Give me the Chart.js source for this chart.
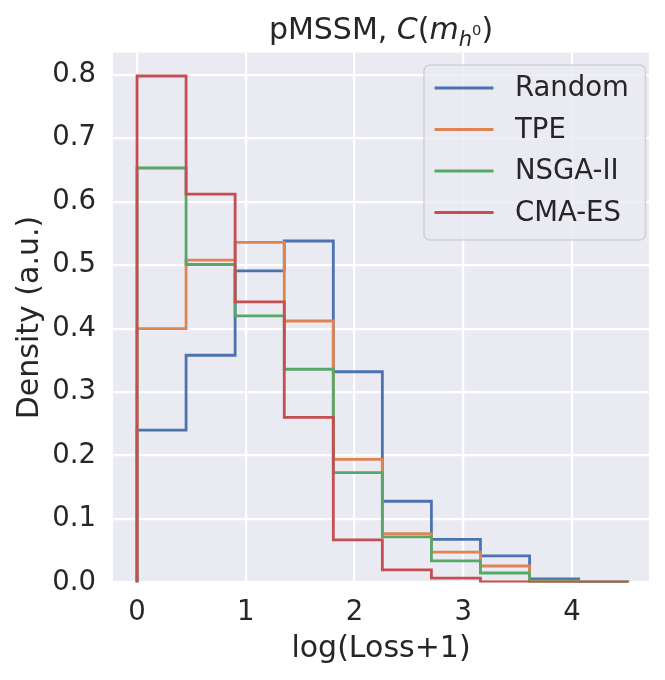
<!DOCTYPE html>
<html>
<head>
<meta charset="utf-8">
<script src="https://cdn.jsdelivr.net/npm/chart.js@4/dist/chart.umd.min.js"></script>
<style>
  html, body { margin: 0; padding: 0; background: #fff; }
  canvas { display: block; }
</style>
</head>
<body>
<canvas id="hist" width="665" height="680"></canvas>
<script>
// bin edges of the shared histogram
const binEdges = [0, 0.451, 0.902, 1.354, 1.805, 2.256, 2.707, 3.158, 3.61, 4.061, 4.512];

const seriesNames = ["Random", "TPE", "NSGA-II", "CMA-ES"];
const seriesColors = ["#4C72B0", "#DD8452", "#55A868", "#C44E52"];

// density per bin
const randomDensity = [0.240, 0.358, 0.491, 0.538, 0.332, 0.128, 0.068, 0.042, 0.0055, 0.001];
const tpeDensity = [0.400, 0.508, 0.536, 0.412, 0.194, 0.077, 0.048, 0.026, 0.002, 0.001];
const nsgaDensity = [0.653, 0.501, 0.420, 0.336, 0.173, 0.072, 0.034, 0.015, 0.001, 0.0005];
const cmaDensity = [0.798, 0.612, 0.442, 0.260, 0.067, 0.020, 0.007, 0.001, 0, 0];

const xTicks = [0, 1, 2, 3, 4];
const yTicks = [0, 0.1, 0.2, 0.3, 0.4, 0.5, 0.6, 0.7, 0.8];

const FONT = "'DejaVu Sans', sans-serif";
const TEXT = "#262626";

// outline of a step histogram (histtype='step')
function stepPoints(values) {
  const pts = [{ x: binEdges[0], y: 0 }];
  values.forEach((v, i) => {
    pts.push({ x: binEdges[i], y: v });
    pts.push({ x: binEdges[i + 1], y: v });
  });
  pts.push({ x: binEdges[binEdges.length - 1], y: 0 });
  return pts;
}

const allSeries = [randomDensity, tpeDensity, nsgaDensity, cmaDensity];

// 배경 + 제목 + 범례
const decor = {
  id: "decor",
  beforeDraw(chart) {
    const { ctx, chartArea: a } = chart;
    ctx.save();
    ctx.fillStyle = "#EAEAF2";
    ctx.fillRect(a.left, a.top, a.right - a.left, a.bottom - a.top);
    ctx.restore();
  },
  afterDraw(chart) {
    const { ctx, chartArea: a } = chart;
    ctx.save();

    // title: pMSSM, C(m_{h^0})
    const base = a.top - 14;
    const parts = [
      { t: "pMSSM, ", f: "30px " + FONT, dy: 0 },
      { t: "C", f: "italic 30px " + FONT, dy: 0 },
      { t: "(", f: "30px " + FONT, dy: 0 },
      { t: "m", f: "italic 30px " + FONT, dy: 0 },
      { t: "h", f: "italic 21px " + FONT, dy: 7 },
      { t: "0", f: "14.7px " + FONT, dy: -3.5 },
      { t: ")", f: "30px " + FONT, dy: 0 },
    ];
    let total = 0;
    parts.forEach((p) => {
      ctx.font = p.f;
      p.w = ctx.measureText(p.t).width;
      total += p.w;
    });
    let x = (a.left + a.right) / 2 - total / 2;
    ctx.fillStyle = TEXT;
    ctx.textBaseline = "alphabetic";
    ctx.textAlign = "left";
    parts.forEach((p) => {
      ctx.font = p.f;
      ctx.fillText(p.t, x, base + p.dy);
      x += p.w;
    });

    // legend box
    const w = 221.5, h = 175;
    const lx = a.right - 3.5 - w, ly = a.top + 12.5;
    ctx.beginPath();
    ctx.roundRect(lx, ly, w, h, 6);
    ctx.fillStyle = "rgba(234,234,242,0.8)";
    ctx.fill();
    ctx.lineWidth = 1.6;
    ctx.strokeStyle = "rgba(204,204,204,0.8)";
    ctx.stroke();

    ctx.font = "27.5px " + FONT;
    ctx.textBaseline = "middle";
    seriesNames.forEach((name, i) => {
      const cy = ly + 23 + i * 41.5;
      ctx.beginPath();
      ctx.moveTo(lx + 10.5, cy);
      ctx.lineTo(lx + 69.5, cy);
      ctx.strokeStyle = seriesColors[i];
      ctx.lineWidth = 2.8;
      ctx.stroke();
      ctx.fillStyle = TEXT;
      ctx.fillText(name, lx + 91, cy + 1);
    });
    ctx.restore();
  },
};

const ctx = document.getElementById("hist").getContext("2d");

new Chart(ctx, {
  type: "line",
  data: {
    datasets: seriesNames.map((name, i) => ({
      label: name,
      data: stepPoints(allSeries[i]),
      borderColor: seriesColors[i],
      borderWidth: 2.8,
      pointRadius: 0,
      tension: 0,
      fill: false,
      order: seriesNames.length - 1 - i, // CMA-ES on top
    })),
  },
  options: {
    responsive: false,
    animation: false,
    events: [],
    layout: { padding: { top: 52.5, right: 16, left: 0, bottom: 0 } },
    plugins: { legend: { display: false }, tooltip: { enabled: false } },
    scales: {
      x: {
        type: "linear",
        min: -0.221,
        max: 4.708,
        afterFit: (s) => { s.height = 97.5; },
        afterBuildTicks: (s) => { s.ticks = xTicks.map((v) => ({ value: v })); },
        grid: { color: "#ffffff", lineWidth: 2.2, drawTicks: false },
        border: { display: false },
        ticks: {
          padding: 14,
          color: TEXT,
          font: { family: FONT, size: 27.5 },
          callback: (v) => String(v),
        },
        title: {
          display: true,
          text: "log(Loss+1)",
          color: TEXT,
          font: { family: FONT, size: 30 },
          padding: { top: 0, bottom: 13 },
        },
      },
      y: {
        type: "linear",
        min: 0,
        max: 0.835,
        afterFit: (s) => { s.width = 113; },
        afterBuildTicks: (s) => { s.ticks = yTicks.map((v) => ({ value: v })); },
        grid: { color: "#ffffff", lineWidth: 2.2, drawTicks: false },
        border: { display: false },
        ticks: {
          padding: 17,
          color: TEXT,
          font: { family: FONT, size: 27.5 },
          callback: (v) => v.toFixed(1),
        },
        title: {
          display: true,
          text: "Density (a.u.)",
          color: TEXT,
          font: { family: FONT, size: 30 },
          padding: { top: 12, bottom: 0 },
        },
      },
    },
  },
  plugins: [decor],
});
</script>
</body>
</html>
